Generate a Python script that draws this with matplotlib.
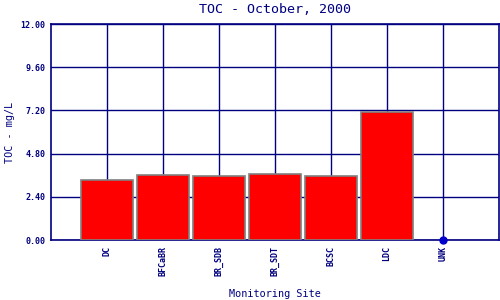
import matplotlib
matplotlib.use("Agg")
import matplotlib.pyplot as plt
import numpy as np

sites = ["DC", "BFCaBR", "BR_SDB", "BR_SDT", "BCSC", "LDC", "UNK"]
toc = [3.32, 3.62, 3.54, 3.66, 3.55, 7.13, 0.0]
y_ticks = [0.00, 2.40, 4.80, 7.20, 9.60, 12.00]

navy = "#000080"
fig = plt.figure(figsize=(5, 3), dpi=100)
ax = fig.add_axes([0.102, 0.2, 0.896, 0.72])

x = np.arange(1, len(sites) + 1)
bar_x = x[:-1]
bar_v = toc[:-1]
ax.bar(bar_x, bar_v, width=0.93, color="#ff0000", edgecolor="#808080", linewidth=1.2, zorder=3)
ax.plot([x[-1]], [toc[-1]], "o", color="#0000cc", markersize=5, zorder=5, clip_on=False)

ax.set_xlim(0, 8)
ax.set_ylim(0, 12)
ax.set_xticks(x)
ax.set_xticklabels(sites, rotation=90, fontsize=6, family="DejaVu Sans Mono",
                   fontweight="bold", color=navy)
ax.set_yticks(y_ticks)
ax.set_yticklabels([f"{v:.2f}" for v in y_ticks], fontsize=6, family="DejaVu Sans Mono",
                   fontweight="bold", color=navy)
ax.tick_params(length=0, pad=4)
ax.grid(True, color=navy, linewidth=1.0, zorder=1)
for s in ax.spines.values():
    s.set_color(navy)
    s.set_linewidth(1.2)

ax.set_title("TOC - October, 2000", fontsize=9.6, family="DejaVu Sans Mono", color=navy, pad=8)
ax.set_xlabel("Monitoring Site", fontsize=7.3, family="DejaVu Sans Mono", color=navy, labelpad=9.5)
ax.set_ylabel("TOC - mg/L", fontsize=7.3, family="DejaVu Sans Mono", color=navy, labelpad=4)

fig.savefig("out.png", dpi=100, facecolor="white")
